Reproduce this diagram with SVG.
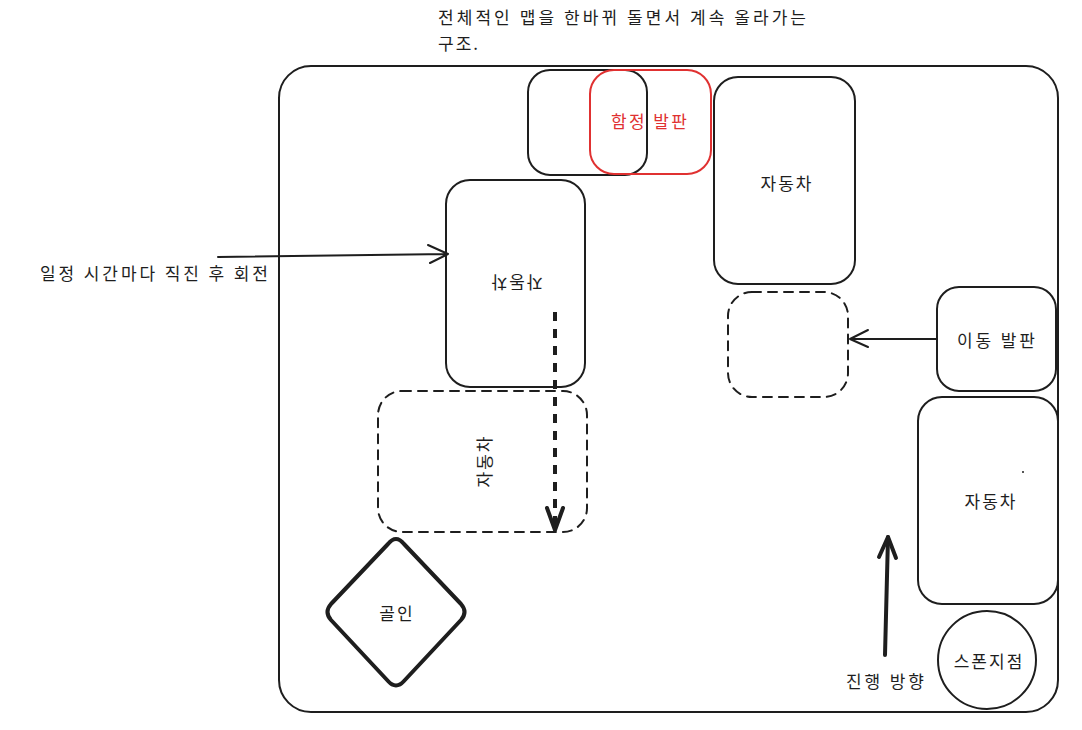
<svg xmlns="http://www.w3.org/2000/svg" width="1082" height="730" viewBox="0 0 1082 730">
<defs>
<style>
.s{fill:none;stroke:#1e1e1e;stroke-width:2;stroke-linecap:round;stroke-linejoin:round}
.d{stroke-dasharray:9 7}
.r{fill:none;stroke:#e03131;stroke-width:2}
.t{font-family:"Noto Sans CJK KR","Noto Sans",sans-serif;font-size:17px;fill:#1e1e1e;dominant-baseline:central;letter-spacing:2px}
.c{text-anchor:middle}
.red{fill:#e03131}
</style>
</defs>
<rect width="1082" height="730" fill="#ffffff"/>
<g id="title">
<text class="t" x="438" y="16" textLength="370" lengthAdjust="spacing">전체적인 맵을 한바뀌 돌면서 계속 올라가는</text>
<text class="t" x="438" y="42">구조.</text>
</g>
<g id="frame"><rect class="s" x="279" y="66" width="779" height="646" rx="32"/></g>
<g id="box-black"><rect class="s" x="528" y="70" width="119" height="105" rx="22"/></g>
<g id="trap"><rect class="r" x="590" y="70" width="121" height="104" rx="24"/>
<text class="t c red" x="650" y="120" textLength="78" lengthAdjust="spacing">함정 발판</text></g>
<g id="car-top"><rect class="s" x="714" y="77" width="141" height="207" rx="24"/>
<text class="t c" x="787" y="182">자동차</text></g>
<g id="car-left"><rect class="s" x="446" y="180" width="139" height="207" rx="24"/>
<text class="t c" x="514" y="283" transform="rotate(180 515 283)">자동차</text></g>
<g id="car-dashed"><rect class="s d" x="378" y="391" width="209" height="141" rx="24"/>
<text class="t c" x="484" y="462" transform="rotate(-90 483 462)">자동차</text></g>
<g id="slot-dashed"><rect class="s d" x="728" y="292" width="120" height="105" rx="24"/></g>
<g id="move-pad"><rect class="s" x="937" y="287" width="119" height="104" rx="22"/>
<text class="t c" x="997" y="339" textLength="80" lengthAdjust="spacing">이동 발판</text></g>
<g id="car-right"><rect class="s" x="918" y="397" width="140" height="207" rx="24"/>
<text class="t c" x="991" y="500">자동차</text>
<circle cx="1023" cy="472" r="1" fill="#1e1e1e"/></g>
<g id="spawn"><circle class="s" cx="987" cy="660" r="49"/>
<text class="t c" x="989" y="660">스폰지점</text></g>
<g id="goal"><path d="M388 544 Q396 534 404 544 L461 604 Q468 612 461 620 L404 681 Q396 690 388 681 L331 620 Q324 612 331 604 Z" fill="none" stroke="#1e1e1e" stroke-width="4" stroke-linejoin="round"/>
<text class="t c" x="397" y="612">골인</text></g>
<g id="labels">
<text class="t" x="40" y="272" textLength="230" lengthAdjust="spacing">일정 시간마다 직진 후 회전</text>
<text class="t c" x="886" y="680" textLength="80" lengthAdjust="spacing">진행 방향</text>
</g>
<g id="connectors">
<path class="s" d="M218 257 L448 254 M428 245 L448 254 L430 263"/>
<path class="s" d="M937 339 L850 339 M868 330 L850 339 L868 347"/>
<path d="M885 655 L888 537" fill="none" stroke="#1e1e1e" stroke-width="4" stroke-linecap="round"/>
<path d="M879 557 L888 537 L896 558" fill="none" stroke="#1e1e1e" stroke-width="4" stroke-linecap="round" stroke-linejoin="round"/>
<path d="M555 312 L555 528" fill="none" stroke="#1e1e1e" stroke-width="4" stroke-dasharray="9 8"/>
<path d="M547 508 L555 530 L563 508" fill="none" stroke="#1e1e1e" stroke-width="4" stroke-linecap="round" stroke-linejoin="round"/>
</g>
</svg>
